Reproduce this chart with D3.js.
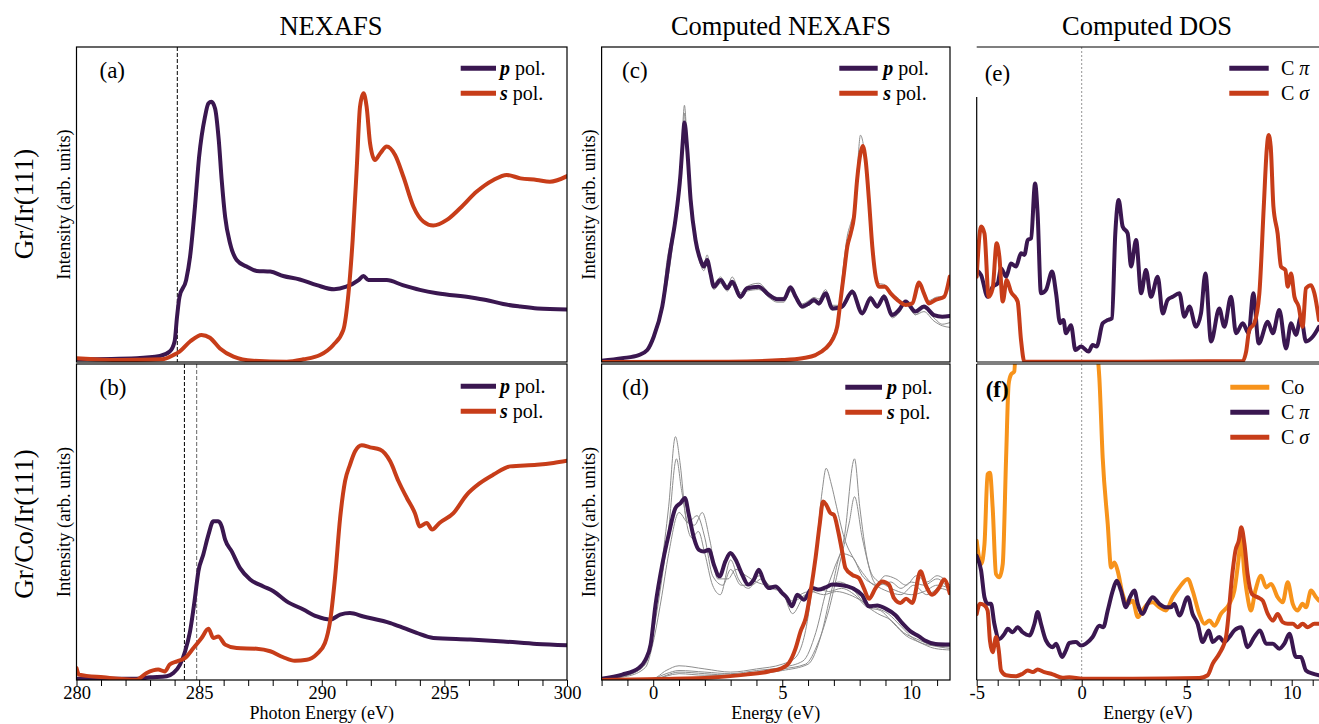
<!DOCTYPE html>
<html>
<head>
<meta charset="utf-8">
<script src="https://cdn.jsdelivr.net/npm/d3@7"></script>
<style>
  body { margin: 0; background: #fff; }
  text { font-family: 'Liberation Serif', 'Times New Roman', serif; fill: #000; }
</style>
</head>
<body>
<script>
// ---------- data (energy, intensity in % of panel height) ----------
var aP = [[280,0.85],[282.45,1.2],[283.4,1.9],[283.8,3.3],[284.0,6.5],[284.1,14.4],[284.2,20.7],[284.47,26],[284.63,33.4],[284.83,49.3],[285.0,65.2],[285.24,77.9],[285.38,82.1],[285.5,82.6],[285.65,80.5],[285.8,70.5],[285.92,57.8],[286.06,46.1],[286.26,37.7],[286.53,32.4],[286.94,30.3],[287.35,28.9],[287.9,28.7],[288.43,27.3],[289.1,26.2],[289.8,24.4],[290.5,23.1],[291.0,23.9],[291.5,26.0],[291.7,27.3],[291.9,26.0],[292.65,26.0],[293.3,24.4],[294.0,22.9],[294.7,21.8],[296.1,20.5],[296.7,19.7],[297.4,18.4],[298.1,17.6],[298.8,17.0],[300,16.7]];
var aS = [[280,1.2],[281.8,0.6],[283.5,0.85],[283.95,2.2],[284.2,3.3],[284.63,6.5],[285.1,8.6],[285.44,7.7],[285.85,4.3],[286.4,1.7],[287.2,0.4],[288.57,0.1],[289.25,0.85],[289.93,2.2],[290.47,5.4],[290.88,10.2],[291.09,21.8],[291.26,38.7],[291.43,62],[291.56,81],[291.7,85.3],[291.83,81],[291.97,69.4],[292.17,64.1],[292.38,66.2],[292.65,68.4],[292.99,65.7],[293.33,58.8],[293.74,49.3],[294.14,44.6],[294.55,43.3],[295.1,45.1],[295.64,48.8],[296.32,54.1],[297.0,57.8],[297.54,59.4],[298.1,58.3],[298.77,57.8],[299.3,57.2],[300,59.0]];

var bP = [[280,0.4],[282.45,0.4],[283.0,0.85],[283.68,1.2],[283.95,2.2],[284.22,4.9],[284.43,9.1],[284.63,15.4],[284.83,26],[284.97,34.4],[285.17,39.7],[285.38,46],[285.58,50.2],[285.78,50.2],[285.92,48.6],[286.06,44.4],[286.33,40.7],[286.67,35.4],[287.08,31.8],[287.62,29.6],[288.03,28.1],[288.57,24.9],[289.25,22.3],[289.8,20.1],[290.34,19.1],[290.75,20.7],[291.15,21.2],[291.7,20.1],[292.8,18.0],[293.33,16.5],[293.87,14.9],[294.55,13.3],[296.05,12.8],[297.4,12.2],[298.77,11.4],[300,11.0]];
var bS = [[280,3.8],[280.1,1.7],[281.1,0.85],[282.45,0.1],[282.86,2.2],[283.33,3.3],[283.6,2.7],[283.8,4.9],[284.1,5.9],[284.43,7.0],[284.77,10.1],[285.1,13.3],[285.38,16.2],[285.58,13.3],[285.78,13.8],[286.06,11.2],[286.53,10.1],[287.35,9.9],[287.9,9.1],[288.43,7.2],[288.9,6.1],[289.39,6.4],[289.8,8.2],[290.13,11.7],[290.34,18.6],[290.54,32.3],[290.75,51.3],[290.95,62.9],[291.15,68.1],[291.36,72.4],[291.63,74.3],[291.97,73.6],[292.38,72.9],[292.79,69.2],[293.13,62.9],[293.47,57.6],[293.8,52.8],[294.0,48.6],[294.28,49.7],[294.5,47.6],[294.8,49.7],[295.37,52.8],[295.91,58.6],[296.45,62.3],[297.0,65],[297.68,67.6],[298.77,68.1],[299.45,68.7],[300,69.4]];

var cP = [[-2,0.4],[-1.2,1.2],[-0.56,2.2],[-0.23,3.8],[0.02,8.0],[0.35,17.6],[0.67,35.6],[0.86,45.1],[1.06,59.9],[1.15,70.5],[1.21,76],[1.32,67.3],[1.45,51.4],[1.64,38.7],[1.83,32.4],[1.96,30.3],[2.09,32.4],[2.22,28.1],[2.35,23.9],[2.61,26],[2.87,23.4],[3.06,25.5],[3.38,20.7],[3.64,23.4],[4.09,23.9],[4.48,21.3],[4.8,19.9],[5.06,19.9],[5.32,23.7],[5.52,20.7],[5.78,17.6],[6.03,18.6],[6.23,19.7],[6.42,18.6],[6.68,21.8],[6.94,17.0],[7.32,17.6],[7.71,22.3],[8.1,15.4],[8.42,20.2],[8.68,17.6],[8.94,20.7],[9.26,14.9],[9.52,16.5],[9.78,19.2],[10.16,16.0],[10.49,17.6],[10.88,14.9],[11.2,14.4],[11.49,14.6]];
var cS = [[-2,0],[2.93,0.1],[5.0,0.6],[5.78,1.2],[6.29,2.2],[6.68,4.3],[6.94,7.0],[7.13,11.2],[7.26,19.7],[7.39,28.1],[7.52,36.6],[7.65,40.8],[7.78,46.1],[7.9,57.8],[8.03,66.2],[8.12,68.6],[8.23,64.1],[8.36,51.4],[8.49,36.6],[8.62,27.1],[8.75,23.9],[8.98,23.9],[9.2,21.8],[9.46,19.7],[9.78,18.1],[10.04,18.6],[10.3,25.2],[10.49,21.8],[10.68,18.6],[10.94,19.7],[11.27,20.7],[11.49,27.1]];
var cGreyP1 = [[-2,0.4],[-1.2,1.2],[-0.56,2.2],[-0.23,3.8],[0.02,8.5],[0.35,19],[0.55,33],[0.67,38],[0.86,47],[1.06,63],[1.15,76],[1.21,81.5],[1.3,72],[1.45,55],[1.64,40],[1.83,33],[1.96,31],[2.09,34],[2.22,29],[2.35,25],[2.61,27],[2.87,24],[3.06,27],[3.38,22],[3.64,24],[4.09,25],[4.48,22],[4.8,20.5],[5.06,20.5],[5.32,24],[5.52,21.5],[5.78,18.5],[6.03,19.5],[6.23,20.5],[6.42,20],[6.68,23],[6.94,18],[7.32,18],[7.71,23],[8.1,16],[8.42,21],[8.68,18],[8.94,21.5],[9.26,15.5],[9.52,16],[9.78,19.5],[10.16,15],[10.49,16],[10.88,13],[11.2,11.5],[11.49,11]];
var cGreyP2 = [[-2,0.4],[-1.2,1.1],[-0.56,2.0],[-0.23,3.5],[0.02,7.5],[0.35,17],[0.6,28],[0.8,40],[1.06,58],[1.15,70],[1.21,79],[1.3,70],[1.45,52],[1.64,38],[1.83,31],[1.96,29],[2.09,31],[2.22,27],[2.35,23],[2.61,25],[2.87,22.5],[3.06,24.5],[3.38,20],[3.64,22.5],[4.09,23],[4.48,20.5],[4.8,19],[5.06,19],[5.32,22.5],[5.52,20],[5.78,17],[6.03,18],[6.23,19],[6.42,18],[6.68,21],[6.94,16.5],[7.32,17],[7.71,21.5],[8.1,15],[8.42,19.5],[8.68,17],[8.94,20],[9.26,14],[9.52,15.5],[9.78,18.5],[10.16,15],[10.49,17],[10.88,14],[11.2,12],[11.49,12.5]];
var cGreyS1 = [[-2,0],[2.93,0.1],[5.0,0.7],[5.78,1.4],[6.29,2.6],[6.68,5],[6.94,8],[7.13,13],[7.26,22],[7.39,32],[7.52,40],[7.65,44],[7.78,48],[7.9,60],[8.03,72],[8.12,70],[8.23,63],[8.36,50],[8.49,36],[8.62,28],[8.75,25],[8.98,24.5],[9.2,22],[9.46,20.5],[9.78,18.5],[10.04,19],[10.3,24],[10.49,22.5],[10.68,19.5],[10.94,20.5],[11.27,21],[11.49,26]];

var dP = [[-2,0.4],[-1.2,1.7],[-0.56,3.8],[-0.3,6.4],[-0.1,11.2],[0.09,23.8],[0.35,36.5],[0.6,46.0],[0.86,54.4],[1.06,56],[1.23,57.6],[1.38,52.3],[1.58,44.9],[1.77,41.2],[1.96,40.7],[2.16,41.2],[2.35,36.5],[2.57,32.8],[2.8,37.6],[2.99,40.2],[3.19,38.1],[3.45,33.3],[3.68,30.2],[3.9,31.8],[4.09,34.9],[4.29,31.2],[4.48,29.1],[4.74,29.6],[5.0,27.5],[5.19,25.9],[5.38,23.3],[5.58,27.0],[5.84,25.4],[6.16,29.1],[6.42,28.6],[6.68,29.3],[6.94,30.2],[7.32,30],[7.71,29.1],[8.1,26.8],[8.36,23.3],[8.68,23.6],[9.0,22.6],[9.39,20.5],[9.65,18.0],[9.97,15.4],[10.3,13.8],[10.55,12.4],[10.94,11.4],[11.49,11.2]];
var dS = [[-2,0],[0.35,0.3],[2.29,0.8],[3.58,1.7],[4.48,2.7],[5.0,3.8],[5.26,5.4],[5.52,10.1],[5.71,15.4],[5.91,19.6],[6.1,28.1],[6.29,38.6],[6.45,49.2],[6.58,56.5],[6.7,55.5],[6.87,52.8],[7.0,52.3],[7.17,47],[7.32,40.7],[7.45,35.4],[7.71,33.3],[7.97,32.3],[8.16,29.1],[8.36,25.7],[8.62,29.1],[8.87,31.2],[9.13,30.2],[9.33,25.9],[9.58,24.4],[9.8,25.7],[10.04,24.4],[10.36,34.4],[10.55,30.2],[10.81,27],[11.07,29.1],[11.27,31.8],[11.49,27.5]];
var dGreyP1 = [[-2,0.3],[-1,1.5],[-0.3,6],[0,18],[0.3,35],[0.6,55],[0.86,77],[1.05,68],[1.25,52],[1.5,45],[1.75,47],[2.0,40],[2.3,30],[2.6,27],[3.0,38],[3.3,32],[3.7,29],[4.1,33],[4.5,30],[5.0,28],[5.4,21],[5.8,26],[6.2,28],[6.7,29],[7.2,31],[7.7,29],[8.2,24],[8.7,21],[9.2,19],[9.7,15],[10.2,13],[10.8,11],[11.5,10]];
var dGreyP2 = [[-2,0.3],[-1,1.5],[-0.3,5],[0,15],[0.3,30],[0.6,48],[0.9,70],[1.1,60],[1.35,50],[1.7,52],[2.0,45],[2.3,33],[2.7,30],[3.0,35],[3.4,30],[3.8,30],[4.2,32],[4.6,29],[5.0,28],[5.4,25],[5.9,27],[6.3,29],[6.8,28],[7.3,29],[7.8,27],[8.3,23],[8.8,22],[9.3,18],[9.8,14],[10.3,12],[10.9,10],[11.5,9.5]];
var dGreyP3 = [[-2,0.3],[-1,1.2],[-0.3,4],[0,12],[0.3,25],[0.6,40],[1.0,53],[1.3,50],[1.6,49],[1.9,53],[2.2,44],[2.5,32],[2.9,32],[3.2,35],[3.6,33],[4.0,31],[4.4,30],[4.9,29],[5.3,24],[5.7,27],[6.1,28],[6.6,27],[7.1,28],[7.6,27],[8.1,25],[8.6,23],[9.1,21],[9.6,17],[10.1,13],[10.7,11],[11.5,10.5]];
var dGreyS1 = [[-2,0],[0,0.5],[0.5,3],[1,4.5],[2,3.5],[3,2.5],[4,3.5],[5,5],[5.5,7],[6,20],[6.3,40],[6.55,60],[6.7,67],[6.9,62],[7.1,55],[7.4,45],[7.8,38],[8.2,33],[8.6,30],[9,33],[9.4,32],[9.8,30],[10.2,33],[10.6,31],[11,33],[11.5,30]];
var dGreyS2 = [[-2,0],[0,0.5],[0.5,2],[1,3],[2,2.5],[3,2],[4,3],[5,4],[5.8,6],[6.3,15],[6.7,28],[7.0,35],[7.4,45],[7.8,70],[8.0,55],[8.3,38],[8.7,30],[9.2,31],[9.6,29],[10,31],[10.5,30],[11,32],[11.5,28]];
var dGreyS3 = [[-2,0],[0,0.3],[1,2.5],[2,2],[3,1.5],[4,2.5],[5,3.5],[5.9,5],[6.4,12],[6.8,22],[7.2,36],[7.6,50],[7.8,58],[8.1,45],[8.5,33],[9,30],[9.5,28],[10,27],[10.5,28],[11,30],[11.5,29]];
var dGreyS4 = [[-2,0],[0,0.3],[1,2],[2,1.5],[3,1.5],[4,2],[5,3],[6,5],[6.5,14],[6.9,28],[7.3,40],[7.7,39],[8.1,33],[8.6,30],[9.1,28],[9.6,27],[10.1,30],[10.6,27],[11.1,29],[11.5,28]];

var ePi = [[-5,29.2],[-4.79,27.6],[-4.48,20.7],[-4.24,23.9],[-4.0,25.0],[-3.84,29.7],[-3.6,27.1],[-3.37,31.3],[-3.13,30.3],[-2.89,34.5],[-2.73,34.0],[-2.57,38.7],[-2.41,39.3],[-2.22,56.7],[-2.1,47.2],[-1.94,21.8],[-1.7,22.9],[-1.41,28.7],[-1.22,21.8],[-1.03,12.3],[-0.87,13.3],[-0.75,9.1],[-0.51,11.7],[-0.3,3.8],[-0.03,4.9],[0.33,3.3],[0.52,5.4],[0.71,4.9],[1.0,12.3],[1.24,13.3],[1.44,13.9],[1.6,40.8],[1.76,51.4],[1.95,43.0],[2.19,40.8],[2.35,30.3],[2.59,38.7],[2.83,21.8],[3.06,29.2],[3.3,20.7],[3.62,27.1],[3.86,15.4],[4.09,19.7],[4.33,20.7],[4.65,21.8],[4.89,14.4],[5.13,17.6],[5.44,11.2],[5.68,15.4],[5.89,28.1],[6.16,6.5],[6.55,17.0],[6.79,11.2],[7.11,20.7],[7.35,9.1],[7.67,12.3],[7.95,9.1],[8.17,21.8],[8.43,5.9],[8.86,12.8],[9.1,9.1],[9.41,16.5],[9.73,4.3],[9.97,12.3],[10.2,8.6],[10.44,14.4],[10.68,6.5],[11.0,8.0],[11.3,11.2]];
var eSigma = [[-5,27.1],[-4.79,43.0],[-4.63,40.8],[-4.43,20.7],[-4.24,23.4],[-4.05,37.7],[-3.92,33.4],[-3.76,19.2],[-3.57,26.0],[-3.37,22.3],[-3.05,19.2],[-2.89,7.0],[-2.73,0.1],[2.43,0.1],[7.67,0.3],[7.83,3.3],[7.98,10.2],[8.22,12.3],[8.46,21.8],[8.67,49.3],[8.81,67.3],[8.9,72.1],[9.0,68.4],[9.13,49.3],[9.33,40.8],[9.49,30.3],[9.7,29.2],[9.81,23.9],[9.97,28.1],[10.13,20.7],[10.33,17.6],[10.52,11.2],[10.68,23.4],[10.92,24.4],[11.08,21.8],[11.3,13.3]];

var fCo = [[-5,44.1],[-4.79,36.7],[-4.63,43.0],[-4.48,65.1],[-4.37,65.6],[-4.24,54.6],[-4.08,33.5],[-3.92,32.5],[-3.76,36.7],[-3.6,70.3],[-3.48,93.5],[-3.37,96.6],[-3.21,97.7],[-3.1,115],[-2.7,150],[-2.0,170],[-1.0,175],[0.0,160],[0.5,130],[0.76,103],[0.84,95.6],[1.0,70.3],[1.24,49.3],[1.4,35.6],[1.56,37.2],[1.71,34.6],[1.95,27.2],[2.19,24.1],[2.43,25.1],[2.67,19.9],[2.9,22.0],[3.14,24.1],[3.38,24.6],[3.7,23.0],[4.01,22.0],[4.33,26.2],[4.65,29.3],[5.05,32.0],[5.28,28.3],[5.6,20.9],[5.84,17.8],[6.08,18.8],[6.32,17.2],[6.63,20.9],[7.03,24.1],[7.27,28.3],[7.48,38.8],[7.59,45.1],[7.75,33.5],[7.9,26.2],[8.06,22.0],[8.27,28.3],[8.54,33.0],[8.78,29.3],[9.02,30.4],[9.33,26.2],[9.57,24.6],[9.81,30.9],[10.05,24.1],[10.28,22.0],[10.52,24.1],[10.68,23.0],[10.92,28.3],[11.16,26.2],[11.3,25.1]];
var fPi = [[-5,39.3],[-4.79,34.6],[-4.63,26.2],[-4.48,24.1],[-4.32,24.1],[-4.16,17.8],[-3.92,13.0],[-3.68,14.6],[-3.52,16.2],[-3.29,15.1],[-3.05,16.7],[-2.81,15.1],[-2.49,14.1],[-2.25,17.8],[-2.1,21.5],[-1.94,17.8],[-1.7,12.5],[-1.38,10.4],[-1.22,11.5],[-0.94,7.3],[-0.75,9.4],[-0.59,11.7],[-0.27,12.0],[-0.03,10.9],[0.2,11.5],[0.52,13.6],[0.84,17.2],[1.03,16.7],[1.24,22.0],[1.48,28.3],[1.67,31.4],[1.87,28.3],[2.11,23.0],[2.3,26.2],[2.51,28.3],[2.67,24.1],[2.9,20.9],[3.14,24.1],[3.38,26.2],[3.7,24.1],[4.01,23.0],[4.25,23.0],[4.41,24.1],[4.65,20.4],[5.05,26.2],[5.28,20.9],[5.52,17.8],[5.76,12.0],[6.05,15.7],[6.24,12.0],[6.55,13.6],[6.79,12.0],[7.03,13.6],[7.27,15.7],[7.59,16.7],[7.9,10.4],[8.22,13.6],[8.49,15.7],[8.78,11.5],[9.1,11.5],[9.41,9.9],[9.65,11.5],[9.89,14.6],[10.2,7.3],[10.44,7.3],[10.68,3.0],[11.0,2.0],[11.3,1.5]];
var fSigma = [[-5,20.9],[-4.84,24.1],[-4.63,23.6],[-4.48,22.0],[-4.37,12.5],[-4.24,8.8],[-4.08,13.6],[-3.95,9.4],[-3.84,3.0],[-3.6,1.5],[-3.13,1.2],[-2.81,2.0],[-2.57,3.0],[-2.33,2.5],[-2.1,3.3],[-1.78,2.5],[-1.38,1.8],[-0.91,0.7],[-0.59,0.9],[0.05,0.4],[2.43,0.4],[5.6,0.6],[6.0,1.5],[6.24,5.2],[6.55,8.3],[6.87,13.6],[7.19,34.6],[7.32,40.9],[7.48,44.1],[7.6,48.3],[7.75,43.0],[7.9,33.5],[8.11,27.2],[8.38,26.2],[8.62,25.1],[8.86,20.9],[9.1,18.8],[9.33,20.9],[9.57,18.3],[9.81,17.8],[10.05,17.8],[10.28,16.7],[10.52,17.8],[10.76,16.7],[11.08,17.8],[11.3,17.8]];

var aEdges = [284.11];
var bEdges = [284.4, 284.9];
var photonLabels = [280, 285, 290, 295, 300];
var nexafsCalcLabels = [0, 5, 10];
var dosLabels = [-5, 0, 5, 10];

// ---------- layout ----------
var W = 1319, H = 724;
var SERIF = "Liberation Serif, Times New Roman, serif";
var PURPLE = "#3a1750", RED = "#c73d19", ORANGE = "#f7931b", GREY = "#8e8e8e";

var svg = d3.select("body").append("svg")
  .attr("width", W).attr("height", H)
  .attr("font-family", SERIF);

var xA = d3.scaleLinear().domain([280, 300]).range([76.5, 567]);
var xC = d3.scaleLinear().domain([-2, 11.5]).range([601.6, 950]);
var xE = d3.scaleLinear().domain([-5, 11.3]).range([976.7, 1319]);
var yTop = d3.scaleLinear().domain([0, 100]).range([362, 47]);
var yBot = d3.scaleLinear().domain([0, 100]).range([680, 364]);

var clipCount = 0;
function panel(x, y, opts){
  var x0 = x.range()[0], x1 = x.range()[1];
  var yb = y.range()[0], yt = y.range()[1];
  var id = "clip" + (clipCount++);
  svg.append("clipPath").attr("id", id)
    .append("rect").attr("x", x0).attr("y", yt).attr("width", x1 - x0).attr("height", yb - yt);
  var g = svg.append("g");
  var plot = g.append("g").attr("clip-path", "url(#" + id + ")");

  if(opts.open){
    g.append("line").attr("x1", x0).attr("x2", x1).attr("y1", yt).attr("y2", yt).attr("stroke", "#000").attr("stroke-width", 1.2);
    g.append("line").attr("x1", x0).attr("x2", x1).attr("y1", yb).attr("y2", yb).attr("stroke", "#000").attr("stroke-width", 1.2);
    g.append("line").attr("x1", x0).attr("x2", x0).attr("y1", opts.leftFrom || yt).attr("y2", yb).attr("stroke", "#000").attr("stroke-width", 1.2);
  } else {
    g.append("rect").attr("x", x0).attr("y", yt).attr("width", x1 - x0).attr("height", yb - yt)
      .attr("fill", "none").attr("stroke", "#000").attr("stroke-width", 1.2);
  }
  return {g: g, plot: plot, x0: x0, x1: x1, yt: yt, yb: yb, x: x, y: y};
}

function curve(p, data, color, width){
  var line = d3.line()
    .x(function(d){ return p.x(d[0]); })
    .y(function(d){ return p.y(d[1]); })
    .curve(d3.curveMonotoneX);
  p.plot.append("path").datum(data)
    .attr("d", line)
    .attr("fill", "none")
    .attr("stroke", color)
    .attr("stroke-width", width)
    .attr("stroke-linejoin", "round")
    .attr("stroke-linecap", "round");
}

function vline(p, xv, color, dash, width){
  p.plot.append("line")
    .attr("x1", p.x(xv)).attr("x2", p.x(xv))
    .attr("y1", p.yt).attr("y2", p.yb)
    .attr("stroke", color).attr("stroke-width", width)
    .attr("stroke-dasharray", dash);
}

function tag(p, txt, dx, dy, bold){
  p.g.append("text").attr("x", p.x0 + dx).attr("y", p.yt + dy)
    .attr("font-size", 23).attr("font-weight", bold ? "bold" : "normal").text(txt);
}

function legend(p, items, lx0, lx1, tx, dy){
  items.forEach(function(it, i){
    var yy = p.yt + dy + i * 25;
    p.g.append("line").attr("x1", lx0).attr("x2", lx1).attr("y1", yy).attr("y2", yy)
      .attr("stroke", it.color).attr("stroke-width", 5);
    var t = p.g.append("text").attr("x", tx).attr("y", yy + 6.7).attr("font-size", 20);
    if(it.kind === "pol"){
      t.append("tspan").attr("font-weight", "bold").attr("font-style", "italic").text(it.lead);
      t.append("tspan").text(" pol.");
    } else if(it.kind === "c"){
      t.append("tspan").text("C ");
      t.append("tspan").attr("font-style", "italic").text(it.lead);
    } else {
      t.text(it.lead);
    }
  });
}

function ylabel(p, txt){
  svg.append("text")
    .attr("transform", "translate(" + (p.x0 - 7) + "," + ((p.yt + p.yb) / 2) + ") rotate(-90)")
    .attr("text-anchor", "middle").attr("font-size", 18.5).text(txt);
}

function xaxis(p, minor, labels, title){
  var ax = d3.axisBottom(p.x)
    .tickValues(minor)
    .tickSize(6).tickSizeOuter(0).tickPadding(0)
    .tickFormat(function(d){ return labels.indexOf(d) >= 0 ? String(d) : ""; });
  var ag = svg.append("g").attr("transform", "translate(0," + p.yb + ")").call(ax);
  ag.attr("font-family", SERIF).attr("font-size", 18.5);
  ag.select(".domain").remove();
  ag.selectAll("line").attr("stroke", "#000").attr("stroke-width", 1);
  ag.selectAll("text").attr("fill", "#000");
  svg.append("text").attr("x", (p.x0 + p.x1) / 2).attr("y", 719)
    .attr("text-anchor", "middle").attr("font-size", 18).text(title);
}

var polItems = [
  {color: PURPLE, kind: "pol", lead: "p"},
  {color: RED, kind: "pol", lead: "s"}
];

// (a)
var pa = panel(xA, yTop, {});
aEdges.forEach(function(e){ vline(pa, e, "#000", "4,2", 1); });
curve(pa, aP, PURPLE, 4);
curve(pa, aS, RED, 4);
tag(pa, "(a)", 23, 30.5);
legend(pa, polItems, 460.7, 496, 500, 21.3);
ylabel(pa, "Intensity (arb. units)");

// (b)
var pb = panel(xA, yBot, {});
vline(pb, bEdges[0], "#000", "4,2", 1);
vline(pb, bEdges[1], "#666", "4,2", 1);
curve(pb, bP, PURPLE, 4);
curve(pb, bS, RED, 4);
tag(pb, "(b)", 23, 30.5);
legend(pb, polItems, 460.7, 496, 500, 22.3);
ylabel(pb, "Intensity (arb. units)");
xaxis(pb, d3.range(280, 301, 1), photonLabels, "Photon Energy (eV)");

// (c)
var pc = panel(xC, yTop, {});
[cGreyP1, cGreyP2, cGreyS1].forEach(function(s){ curve(pc, s, GREY, 1); });
curve(pc, cP, PURPLE, 4);
curve(pc, cS, RED, 4);
tag(pc, "(c)", 20.5, 30.5);
legend(pc, polItems, 839.3, 877.7, 883.3, 21.3);
ylabel(pc, "Intensity (arb. units)");

// (d)
var pd = panel(xC, yBot, {});
[dGreyP1, dGreyP2, dGreyP3, dGreyS1, dGreyS2, dGreyS3, dGreyS4].forEach(function(s){ curve(pd, s, GREY, 1); });
curve(pd, dP, PURPLE, 4);
curve(pd, dS, RED, 4);
tag(pd, "(d)", 20.5, 31);
legend(pd, polItems, 845.3, 882, 887, 23.3);
ylabel(pd, "Intensity (arb. units)");
xaxis(pd, d3.range(-2, 12, 1), nexafsCalcLabels, "Energy (eV)");

// (e)
var pe = panel(xE, yTop, {open: true, leftFrom: 97});
vline(pe, 0, "#777", "2,2", 0.8);
curve(pe, ePi, PURPLE, 4);
curve(pe, eSigma, RED, 4);
tag(pe, "(e)", 8, 34);
legend(pe, [
  {color: PURPLE, kind: "c", lead: "π"},
  {color: RED, kind: "c", lead: "σ"}
], 1229.3, 1268.7, 1281, 21.3);

// (f)
var pf = panel(xE, yBot, {open: true});
vline(pf, 0, "#777", "2,2", 0.8);
curve(pf, fCo, ORANGE, 4);
curve(pf, fPi, PURPLE, 4);
curve(pf, fSigma, RED, 4);
tag(pf, "(f)", 9, 33, true);
legend(pf, [
  {color: ORANGE, kind: "plain", lead: "Co"},
  {color: PURPLE, kind: "c", lead: "π"},
  {color: RED, kind: "c", lead: "σ"}
], 1230.3, 1269.3, 1281, 23.3);
xaxis(pf, d3.range(-5, 12, 1), dosLabels, "Energy (eV)");

// column titles
[["NEXAFS", 331], ["Computed NEXAFS", 781], ["Computed DOS", 1147]].forEach(function(t){
  svg.append("text").attr("x", t[1]).attr("y", 35).attr("text-anchor", "middle")
    .attr("font-size", 26.5).text(t[0]);
});

// row labels
[["Gr/Ir(111)", 204], ["Gr/Co/Ir(111)", 524]].forEach(function(r){
  svg.append("text")
    .attr("transform", "translate(33," + r[1] + ") rotate(-90)")
    .attr("text-anchor", "middle").attr("font-size", 27).text(r[0]);
});
</script>
</body>
</html>
